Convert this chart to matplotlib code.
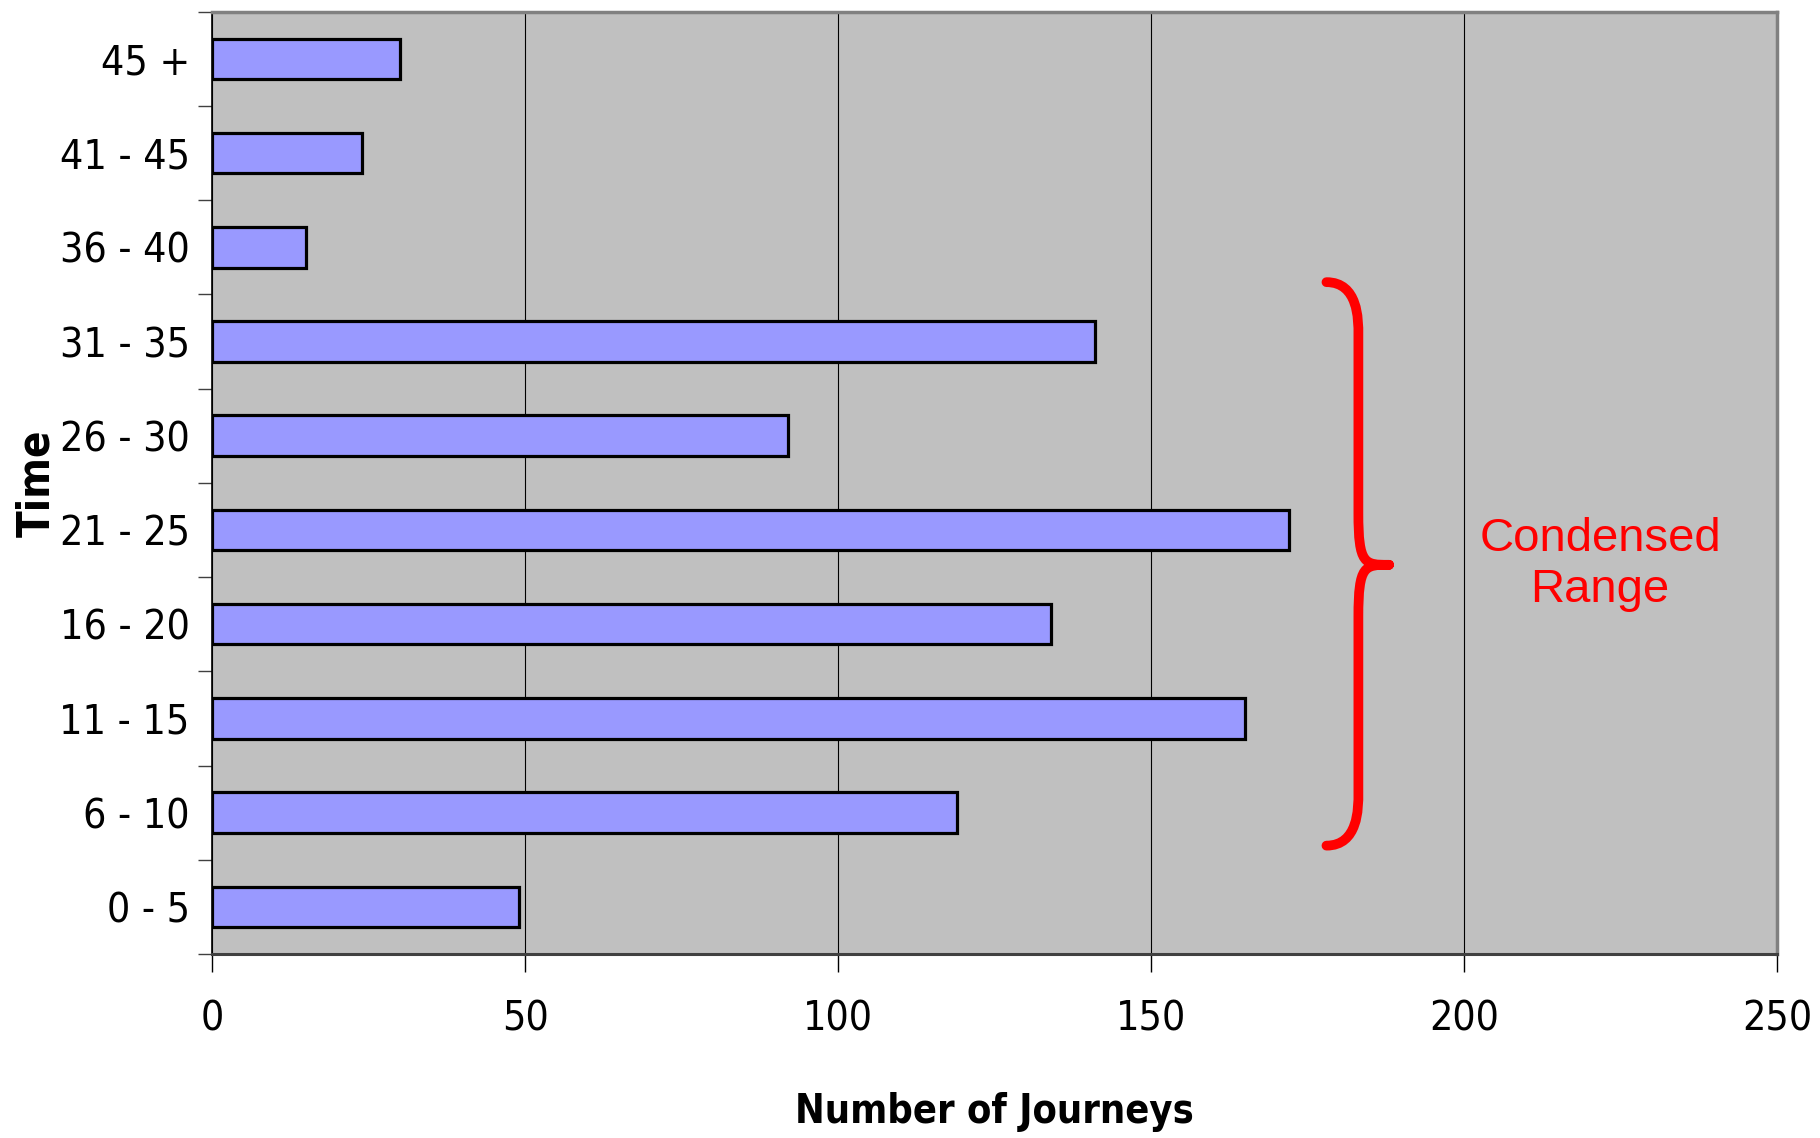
import numpy as np
import matplotlib.pyplot as plt
from matplotlib import font_manager
from matplotlib.path import Path
from matplotlib.patches import PathPatch

# data
categories = ["0 - 5", "6 - 10", "11 - 15", "16 - 20", "21 - 25",
              "26 - 30", "31 - 35", "36 - 40", "41 - 45", "45 +"]
journeys = [49, 119, 165, 134, 172, 92, 141, 15, 24, 30]
x_ticks = [0, 50, 100, 150, 200, 250]

# the original uses a narrow Arial-like face; pick the narrowest one we have
fonts = font_manager.fontManager.ttflist
names = {f.name for f in fonts}
if 'Liberation Sans Narrow' in names:
    fam, stretch, scale = 'Liberation Sans Narrow', 'normal', 1.0
elif any(f.name == 'DejaVu Sans' and f.stretch in ('condensed', 'semi-condensed') for f in fonts):
    fam, stretch, scale = 'DejaVu Sans', 'condensed', 0.95
else:
    fam, stretch, scale = 'Liberation Sans', 'normal', 0.9
plt.rcParams['font.family'] = [fam, 'DejaVu Sans']
plt.rcParams['font.stretch'] = stretch

fig = plt.figure(figsize=(18.2, 11.38), dpi=100)
ax = fig.add_axes([0.1165, 0.1617, 0.86, 0.828])
ax.set_facecolor('#C0C0C0')

y = np.arange(len(categories))
ax.barh(y, journeys, height=0.43, color='#9999FF', edgecolor='black',
        linewidth=2.3, zorder=3)

ax.set_xlim(0, 250)
ax.set_ylim(-0.5, len(categories) - 0.5)

# x axis
ax.set_xticks(x_ticks)
ax.set_xticklabels([str(t) for t in x_ticks], fontsize=31 * scale)
ax.tick_params(axis='x', length=13, width=1, pad=20, color='black')
ax.grid(axis='x', color='black', linewidth=0.8, zorder=1)

# y axis: labels at category centres, ticks between categories
ax.set_yticks(y)
ax.set_yticklabels(categories, fontsize=31 * scale)
ax.tick_params(axis='y', which='major', length=0, pad=16)
ax.set_yticks(np.arange(-0.5, len(categories), 1.0), minor=True)
ax.tick_params(axis='y', which='minor', length=10, width=1, color='#404040')

ax.set_xlabel('Number of Journeys', fontsize=30 * scale, fontweight='bold')
ax.xaxis.set_label_coords(0.5, -0.147)
ax.set_ylabel('Time', fontsize=33 * scale, fontweight='bold')
ax.yaxis.set_label_coords(-0.098, 0.5)

for side in ['top', 'right']:
    ax.spines[side].set_color('#808080')
    ax.spines[side].set_linewidth(2.5)
ax.spines['left'].set_color('black')
ax.spines['left'].set_linewidth(1.2)
ax.spines['bottom'].set_color('#404040')
ax.spines['bottom'].set_linewidth(2.2)

# curly brace around the condensed range
bx0, bx1, bx2 = 178.0, 183.1, 188.0   # end, stem, tip
by_top, by_mid, by_bot = 6.63, 3.63, 0.65
verts = [
    (bx0, by_top),
    (bx1, by_top), (bx1, by_top - 0.4), (bx1, by_top - 0.55),
    (bx1, by_mid + 0.55),
    (bx1, by_mid), (bx1 + 1.0, by_mid), (bx2, by_mid),
    (bx1 + 1.0, by_mid), (bx1, by_mid), (bx1, by_mid - 0.55),
    (bx1, by_bot + 0.55),
    (bx1, by_bot + 0.4), (bx1, by_bot), (bx0, by_bot),
]
codes = [Path.MOVETO,
         Path.CURVE4, Path.CURVE4, Path.CURVE4,
         Path.LINETO,
         Path.CURVE4, Path.CURVE4, Path.CURVE4,
         Path.CURVE4, Path.CURVE4, Path.CURVE4,
         Path.LINETO,
         Path.CURVE4, Path.CURVE4, Path.CURVE4]
brace = PathPatch(Path(verts, codes), facecolor='none', edgecolor='red',
                  linewidth=7, capstyle='round', joinstyle='round', zorder=4)
ax.add_patch(brace)

ax.text(221.7, by_mid, 'Condensed\nRange', color='red', fontsize=34,
        family=['Liberation Sans', 'DejaVu Sans'], stretch='normal',
        ha='center', va='center', linespacing=1.2, zorder=5)

fig.savefig('out.png', dpi=100)
